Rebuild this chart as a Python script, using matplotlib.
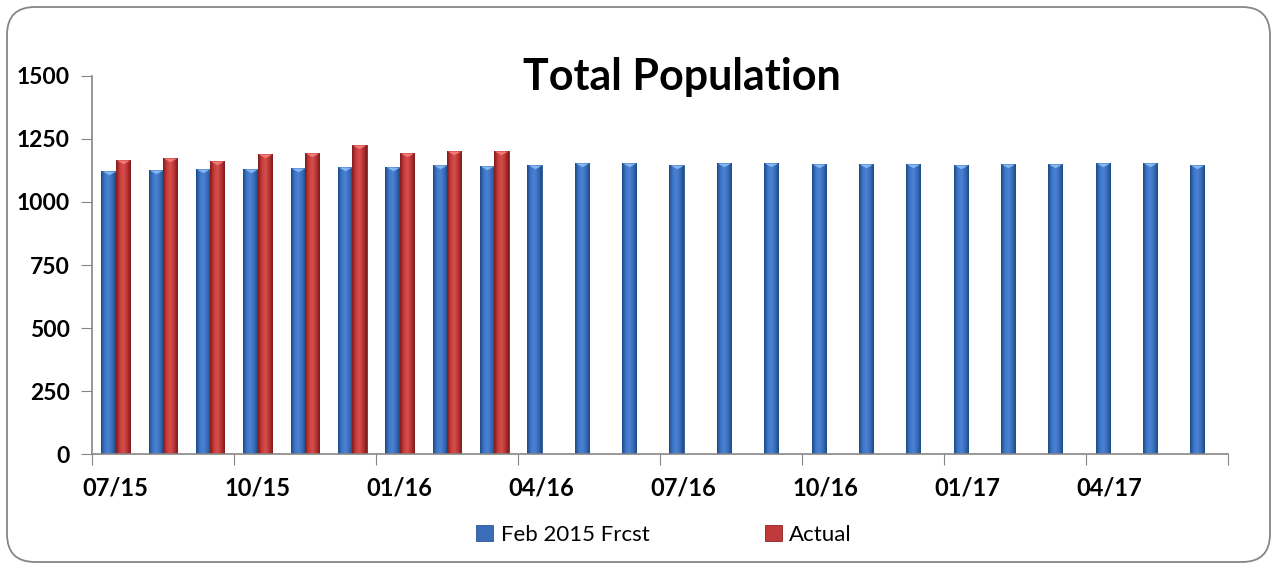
import matplotlib
matplotlib.use("Agg")
import matplotlib.pyplot as plt
import numpy as np
from matplotlib.colors import LinearSegmentedColormap
from matplotlib.patches import FancyBboxPatch

months = ["07/15", "08/15", "09/15", "10/15", "11/15", "12/15", "01/16", "02/16",
          "03/16", "04/16", "05/16", "06/16", "07/16", "08/16", "09/16", "10/16",
          "11/16", "12/16", "01/17", "02/17", "03/17", "04/17", "05/17", "06/17"]
forecast = [1121, 1125, 1129, 1129, 1133, 1137, 1137, 1145, 1141, 1146, 1154, 1154,
            1146, 1154, 1154, 1150, 1150, 1150, 1146, 1150, 1150, 1154, 1154, 1146]
actual = [1165, 1176, 1161, 1192, 1196, 1225, 1196, 1204, 1204]
yticks = [0, 250, 500, 750, 1000, 1250, 1500]

plt.rcParams['font.family'] = ['Lato', 'DejaVu Sans']

fig = plt.figure(figsize=(12.77, 5.69), dpi=100)
ax = fig.add_axes([0.072, 0.202, 0.8897, 0.6645])

# outer rounded frame
frame = FancyBboxPatch((0.07, 0.07), 12.63, 5.55, boxstyle="round,pad=0,rounding_size=0.28",
                       transform=fig.dpi_scale_trans, facecolor="none", edgecolor="#868686",
                       linewidth=1.3, zorder=0)
fig.patches.append(frame)

x = np.arange(len(months))
w = 0.3
blue_cmap = LinearSegmentedColormap.from_list("b", ["#1d4a86", "#3f76c8", "#4a82d4", "#3a6cb8", "#1d4a86"])
red_cmap = LinearSegmentedColormap.from_list("r", ["#7e1b1b", "#c83a3a", "#d4504c", "#b93434", "#7e1b1b"])

b1 = ax.bar(x - w / 2, forecast, w, color="#3a6cb8", edgecolor="#2a5592", linewidth=0.6,
            label="Feb 2015 Frcst", zorder=2)
b2 = ax.bar(x[:len(actual)] + w / 2, actual, w, color="#c0393b", edgecolor="#8a2424",
            linewidth=0.6, label="Actual", zorder=2)

grad = np.linspace(0, 1, 64).reshape(1, -1)
for bars, cm in [(b1, blue_cmap), (b2, red_cmap)]:
    for p in bars:
        x0, y0 = p.get_x(), p.get_y()
        im = ax.imshow(grad, extent=[x0, x0 + p.get_width(), y0, y0 + p.get_height()],
                       aspect="auto", cmap=cm, zorder=2.5)
        im.set_clip_path(p)

# bevel caps on top of the bars
cap = [(-1, 0), (1, 0), (0, -0.55), (-1, 0)]
ax.scatter(x - w / 2, forecast, marker=cap, s=95, color="#86b6f0", linewidths=0, zorder=3)
ax.scatter(x[:len(actual)] + w / 2, actual, marker=cap, s=95, color="#f07a78",
           linewidths=0, zorder=3)

ax.set_xlim(-0.5, len(months) - 0.5)
ax.set_ylim(0, 1500)

ax.set_yticks(yticks)
ax.set_yticklabels([str(v) for v in yticks], fontsize=16.5, fontweight="bold")
ax.set_xticks(np.arange(-0.5, len(months), 3))
ax.set_xticklabels([])
ax.set_xticks(x[::3], minor=True)
ax.set_xticklabels(months[::3], minor=True, fontsize=17, fontweight="bold")
ax.tick_params(axis="x", which="major", length=8, color="#868686", direction="out")
ax.tick_params(axis="x", which="minor", length=0, pad=16)
ax.tick_params(axis="y", length=8, color="#868686", pad=8)

for s in ["top", "right"]:
    ax.spines[s].set_visible(False)
for s in ["left", "bottom"]:
    ax.spines[s].set_color("#868686")
    ax.spines[s].set_linewidth(1.2)

fig.text(0.534, 0.842, "Total Population", ha="center", va="baseline",
         fontsize=31, fontweight="bold")

ax.legend(handles=[b1, b2], loc="center", bbox_to_anchor=(0.520, 1 - 535 / 569),
          bbox_transform=fig.transFigure, ncol=2, frameon=False, fontsize=16,
          handlelength=0.75, handleheight=0.75, columnspacing=5.2, handletextpad=0.35)

fig.savefig("out.png", dpi=100)
